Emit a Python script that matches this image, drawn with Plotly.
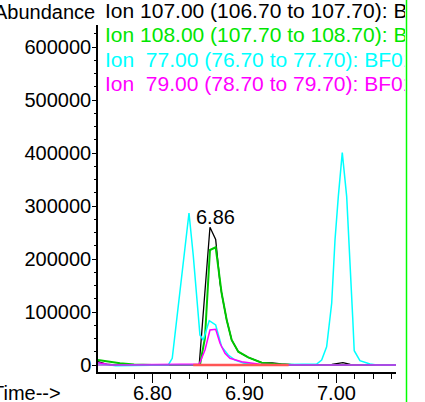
import plotly.graph_objects as go

# ---- data ----
t_black = [6.7408, 6.750, 6.760, 6.8508, 6.8625, 6.8687, 6.8734, 6.8752, 6.8807, 6.8861,
           6.8933, 6.9041, 6.9187, 6.930, 6.940, 6.955, 6.995, 7.007, 7.015, 7.020, 7.0647]
v_black = [6200, 1500, 0, 0, 259800, 237000, 154700, 135300, 84900, 47200,
           25100, 14500, 4300, 4000, 2000, 0, 1000, 4500, 1000, 0, 0]

t_green = [6.7408, 6.7647, 6.780, 6.800, 6.8516, 6.8570, 6.8625, 6.8687, 6.8709, 6.8752,
           6.8807, 6.8861, 6.8933, 6.9041, 6.9187, 6.9332, 6.9549, 7.0647]
v_green = [9400, 3200, 1000, 0, 0, 50400, 217000, 222100, 192500, 135300,
           84900, 47200, 25100, 14500, 4300, 1900, 0, 0]

t_cyan = [6.7408, 6.760, 6.8172, 6.8215, 6.8397, 6.8443, 6.8516, 6.8552, 6.8617, 6.8687,
          6.8752, 6.8824, 6.8897, 6.9005, 6.9168, 6.9785, 6.9839, 6.9893, 6.9948, 6.9984,
          7.0020, 7.0063, 7.0111, 7.0147, 7.0176, 7.0193, 7.0255, 7.0364, 7.0437, 7.0647]
v_cyan = [3200, -1500, 0, 12600, 286800, 207600, 56600, 47200, 83600, 75500,
          34500, 18900, 9400, 3000, 0, 1900, 9400, 34500, 116400, 235900,
          317600, 400600, 317600, 204400, 91100, 27000, 8100, 1900, 0, 0]

t_magenta = [6.7408, 6.7555, 6.830, 6.8508, 6.8571, 6.8625, 6.8687, 6.8734, 6.8788, 6.8842,
             6.8970, 6.9168, 6.935, 7.0647]
v_magenta = [4300, 0, 1500, 1500, 28300, 66000, 67400, 41000, 22100, 12600,
             6200, 1500, 0, 0]

t_base_purple = [6.7408, 7.0647]
v_base_purple = [0, 0]

t_base_red = [6.8443, 6.948]
v_base_red = [0, 0]

ion_labels = [
    "Ion 107.00 (106.70 to 107.70): BF0101.D",
    "Ion 108.00 (107.70 to 108.70): BF0101.D",
    "Ion\u00a0 77.00 (76.70 to 77.70): BF0101.D",
    "Ion\u00a0 79.00 (78.70 to 79.70): BF0101.D",
]
ion_colors = ["#000000", "#00e600", "#00ffff", "#ff00ff"]

peak_label = "6.86"
peak_time = 6.868
peak_label_value = 280000

x_range = [6.7408, 7.0647]
y_range = [-13200, 641500]

FONT = "Liberation Sans, Arial, sans-serif"

fig = go.Figure()
fig.add_trace(go.Scatter(x=t_black, y=v_black, mode="lines",
                         line=dict(color="#000000", width=1.3), hoverinfo="skip"))
fig.add_trace(go.Scatter(x=t_green, y=v_green, mode="lines",
                         line=dict(color="#00c800", width=2), hoverinfo="skip"))
fig.add_trace(go.Scatter(x=t_cyan, y=v_cyan, mode="lines",
                         line=dict(color="#00ffff", width=1.5), hoverinfo="skip"))
fig.add_trace(go.Scatter(x=t_magenta, y=v_magenta, mode="lines",
                         line=dict(color="#ff00ff", width=1.5), hoverinfo="skip"))
fig.add_trace(go.Scatter(x=t_base_purple, y=v_base_purple, mode="lines",
                         line=dict(color="#a050e0", width=1.5), hoverinfo="skip"))
fig.add_trace(go.Scatter(x=t_base_red, y=v_base_red, mode="lines",
                         line=dict(color="#ff5555", width=2.5), hoverinfo="skip"))

# plot area in pixels: x 98..396, y 25..372
L, R, T, B = 98, 396, 25, 372
def px(x):
    return (x - L) / (R - L)
def py(y):
    return (B - y) / (B - T)

ann = []
ann.append(dict(text="Abundance", x=px(97), y=py(12), xref="paper", yref="paper",
                xanchor="right", yanchor="middle", showarrow=False,
                font=dict(size=20, color="#000000", family=FONT)))
ann.append(dict(text="Time-->", x=px(63), y=py(392.5), xref="paper", yref="paper",
                xanchor="right", yanchor="middle", showarrow=False,
                font=dict(size=20, color="#000000", family=FONT)))
row_y = [11, 34, 59, 83]
for lab, col, yy in zip(ion_labels, ion_colors, row_y):
    ann.append(dict(text=lab, x=px(104), y=py(yy), xref="paper", yref="paper",
                    xanchor="left", yanchor="middle", showarrow=False, align="left",
                    width=300, borderpad=0,
                    font=dict(size=21, color=col, family=FONT)))
ann.append(dict(text=peak_label, x=peak_time, y=peak_label_value, xref="x", yref="y",
                xanchor="center", yanchor="middle", showarrow=False,
                font=dict(size=20, color="#000000", family=FONT)))

fig.update_layout(
    template="none",
    width=425, height=402, autosize=False,
    margin=dict(l=L, r=425 - R, t=T, b=402 - B, pad=0, autoexpand=False),
    paper_bgcolor="white", plot_bgcolor="white",
    showlegend=False,
    annotations=ann,
    shapes=[dict(type="line", xref="paper", yref="paper",
                 x0=px(406.5), x1=px(406.5), y0=py(402), y1=py(0),
                 line=dict(color="#00ff00", width=1.5))],
    xaxis=dict(range=x_range, showline=True, linecolor="#000000", linewidth=1.5,
               automargin=False,
               ticks="outside", ticklen=9, tickwidth=1, tickcolor="#000000",
               tick0=6.8, dtick=0.1, tickformat=".2f", ticklabelstandoff=-7,
               minor=dict(ticks="outside", dtick=0.02, tick0=6.8, ticklen=5,
                          tickcolor="#000000", tickwidth=1, showgrid=False),
               showgrid=False, zeroline=False,
               tickfont=dict(size=20, color="#000000", family=FONT)),
    yaxis=dict(range=y_range, showline=True, linecolor="#000000", linewidth=1.5,
               automargin=False,
               ticks="outside", ticklen=4, tickwidth=1, tickcolor="#000000",
               tick0=0, dtick=100000, tickformat="d", ticklabelstandoff=-3,
               minor=dict(ticks="outside", dtick=25000, tick0=0, ticklen=2,
                          tickcolor="#000000", tickwidth=1, showgrid=False),
               showgrid=False, zeroline=False,
               tickfont=dict(size=20, color="#000000", family=FONT)),
)

fig.write_html("out.html", config={"displayModeBar": False},
               post_script="document.body.style.margin='0px';")
